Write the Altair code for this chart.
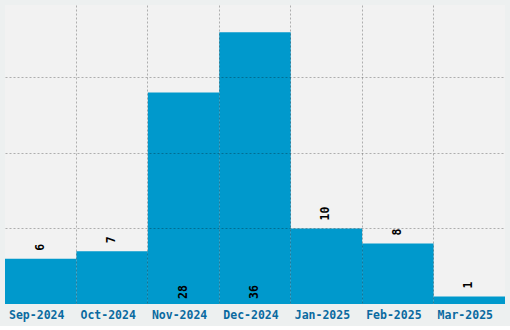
import altair as alt
import pandas as pd

months = ["Sep-2024", "Oct-2024", "Nov-2024", "Dec-2024", "Jan-2025", "Feb-2025", "Mar-2025"]
counts = [6, 7, 28, 36, 10, 8, 1]

df = pd.DataFrame({"month": months, "count": counts})
ymax = max(counts) * 1.1
FONT = "DejaVu Sans Mono"

x = alt.X(
    "month:N", sort=months, title=None,
    scale=alt.Scale(paddingInner=0, paddingOuter=0),
    axis=alt.Axis(
        labelAngle=0, labelFont=FONT, labelFontSize=11.5, labelFontWeight="bold",
        labelColor="#0a6aa0", ticks=False, domain=False, labelPadding=5, labelOffset=-4,
        grid=True, bandPosition=0, gridColor="#000000",
        gridOpacity={"condition": {"test": "datum.value == 'Sep-2024'", "value": 0}, "value": 0.28},
        gridDash=[2, 2], zindex=1,
    ),
)
y = alt.Y(
    "count:Q", title=None,
    scale=alt.Scale(domain=[0, ymax], nice=False),
    axis=alt.Axis(
        labels=False, ticks=False, domain=False, values=[10, 20, 30],
        grid=True, gridColor="#000000", gridOpacity=0.28, gridDash=[2, 2], zindex=1,
    ),
)

base = alt.Chart(df)
bars = base.mark_bar(color="#0099cc", strokeWidth=0).encode(x=x, y=y)

small = base.transform_filter("datum.count <= 20").mark_text(
    angle=270, align="left", baseline="middle", dx=8,
    font=FONT, fontSize=11.5, fontWeight="bold", color="#000000",
).encode(x=alt.X("month:N", sort=months), y="count:Q", text="count:Q")

big = base.transform_filter("datum.count > 20").mark_text(
    angle=270, align="left", baseline="middle", dx=5,
    font=FONT, fontSize=11.5, fontWeight="bold", color="#000000",
).encode(x=alt.X("month:N", sort=months), y=alt.datum(0), text="count:Q")

chart = alt.layer(bars, small, big).properties(
    width=500, height=299, background="#edf0f0", padding=5,
).configure_view(fill="#f2f2f2", stroke=None)

chart.save("out.html", embed_options={"renderer": "svg", "actions": False})
